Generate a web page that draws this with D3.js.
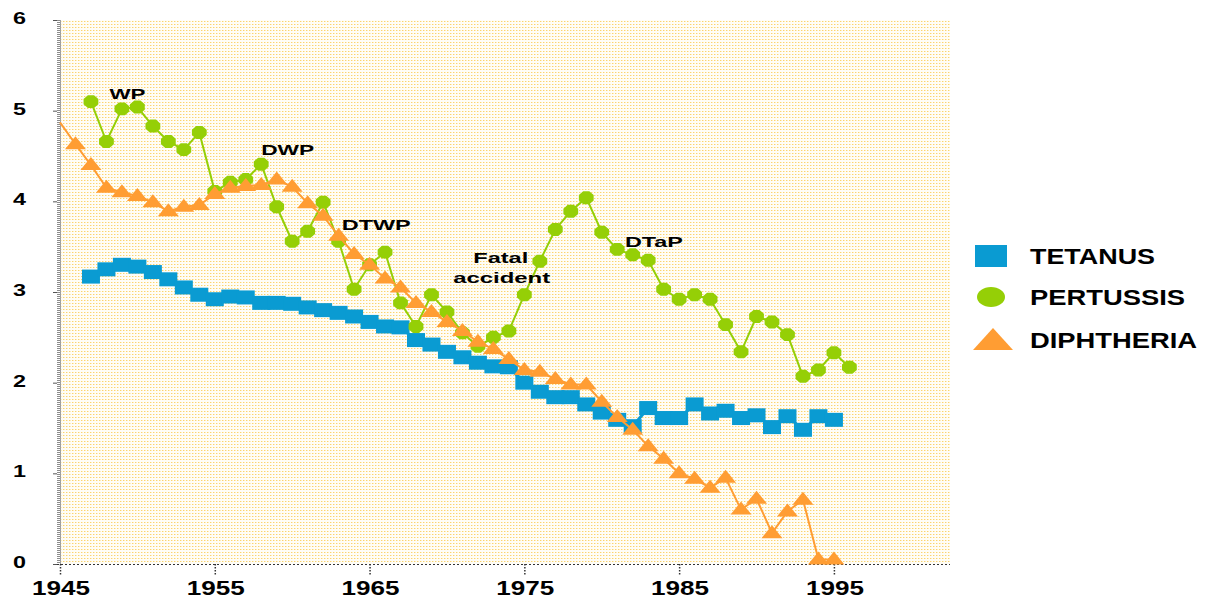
<!DOCTYPE html>
<html>
<head>
<meta charset="utf-8">
<script src="https://cdn.jsdelivr.net/npm/d3@7"></script>
<style>
  html, body { margin: 0; padding: 0; background: #ffffff; }
  svg { display: block; }
  text { font-family: "Liberation Sans", Arial, sans-serif; font-weight: bold; fill: #000; }
</style>
</head>
<body>
<svg id="chart" width="1212" height="599"></svg>
<script>
// ---------------- DATA ----------------
const years = [1945,1946,1947,1948,1949,1950,1951,1952,1953,1954,
               1955,1956,1957,1958,1959,1960,1961,1962,1963,1964,
               1965,1966,1967,1968,1969,1970,1971,1972,1973,1974,
               1975,1976,1977,1978,1979,1980,1981,1982,1983,1984,
               1985,1986,1987,1988,1989,1990,1991,1992,1993,1994,
               1995,1996];

const tetanus = [null,null,3.17,3.25,3.30,3.28,3.22,3.14,3.05,2.97,
                 2.92,2.95,2.94,2.88,2.88,2.87,2.83,2.80,2.77,2.73,
                 2.67,2.62,2.61,2.47,2.42,2.34,2.28,2.22,2.18,2.17,
                 2.00,1.90,1.84,1.84,1.76,1.67,1.59,1.52,1.72,1.61,
                 1.61,1.76,1.66,1.69,1.61,1.64,1.51,1.63,1.48,1.63,
                 1.59,null];

const pertussis = [null,null,5.10,4.66,5.02,5.04,4.83,4.66,4.57,4.76,
                   4.11,4.21,4.24,4.41,3.94,3.56,3.67,3.99,3.56,3.03,
                   3.30,3.44,2.88,2.62,2.97,2.78,2.55,2.40,2.50,2.57,
                   2.97,3.34,3.69,3.89,4.04,3.66,3.47,3.41,3.35,3.03,
                   2.92,2.97,2.92,2.64,2.34,2.73,2.67,2.53,2.07,2.14,
                   2.33,2.17];

const diphtheria = [4.87,4.63,4.40,4.15,4.10,4.06,3.99,3.89,3.94,3.96,
                    4.08,4.15,4.17,4.18,4.24,4.16,3.98,3.84,3.62,3.42,
                    3.30,3.15,3.05,2.88,2.78,2.67,2.57,2.45,2.37,2.26,
                    2.14,2.12,2.04,1.98,1.98,1.79,1.62,1.48,1.30,1.16,
                    1.00,0.94,0.84,0.95,0.60,0.72,0.34,0.58,0.71,0.05,
                    0.05,null];

const seriesNames = ["TETANUS", "PERTUSSIS", "DIPHTHERIA"];
const xTickLabels = [1945, 1955, 1965, 1975, 1985, 1995];
const yTickLabels = [0, 1, 2, 3, 4, 5, 6];

const annotations = [
  {text: "WP", year: 1948.2, value: 5.13, w: 36},
  {text: "DWP", year: 1958.0, value: 4.51, w: 53},
  {text: "DTWP", year: 1963.2, value: 3.68, w: 69},
  {text: "Fatal", year: 1971.7, value: 3.32, w: 55},
  {text: "accident", year: 1970.4, value: 3.10, w: 97},
  {text: "DTaP", year: 1981.5, value: 3.50, w: 58}
];

// ---------------- SETUP ----------------
const svg = d3.select("#chart");
const colors = {TETANUS: "#0a9bd2", PERTUSSIS: "#95cf06", DIPHTHERIA: "#ff9d33"};

const x = d3.scaleLinear().domain([1945, 2002.5]).range([60, 950]);
const y = d3.scaleLinear().domain([0, 6]).range([564, 20]);

// dotted background pattern
const defs = svg.append("defs");
const pat = defs.append("pattern").attr("id", "dots")
  .attr("patternUnits", "userSpaceOnUse").attr("width", 3).attr("height", 3);
pat.append("rect").attr("width", 3).attr("height", 3).attr("fill", "#fffdf6");
pat.append("rect").attr("width", 1).attr("height", 1).attr("fill", "#fbd270");
pat.append("rect").attr("x", 1).attr("width", 1).attr("height", 1).attr("fill", "#feeebb");

svg.append("rect")
  .attr("x", x(1945)).attr("y", y(6))
  .attr("width", x(2002.5) - x(1945)).attr("height", y(0) - y(6))
  .attr("fill", "url(#dots)");

// ---------------- AXES ----------------
// y axis: gray band + small ticks
svg.append("line")
  .attr("x1", x(1945) - 1).attr("x2", x(1945) - 1)
  .attr("y1", y(6)).attr("y2", y(0))
  .attr("stroke", "#8c8c8c").attr("stroke-width", 4)
  .attr("stroke-dasharray", "1,1");
svg.append("line")
  .attr("x1", x(1945) + 0.5).attr("x2", x(1945) + 0.5)
  .attr("y1", y(6)).attr("y2", y(0))
  .attr("stroke", "#a0a0a0").attr("stroke-width", 1);

const yAxis = d3.axisLeft(y).tickValues(yTickLabels).tickSize(4).tickFormat(d3.format("d"));
const gy = svg.append("g").attr("transform", `translate(${x(1945) - 3},0)`).call(yAxis);
gy.select(".domain").remove();
gy.selectAll(".tick line").attr("stroke", "#555");
gy.selectAll(".tick text").remove();
yTickLabels.forEach(v => {
  svg.append("text")
    .attr("x", 13).attr("y", y(v) + 4)
    .attr("font-size", 17)
    .attr("textLength", 13).attr("lengthAdjust", "spacingAndGlyphs")
    .text(v);
});

// x axis: dotted line + ticks
svg.append("line")
  .attr("x1", x(1945) - 3).attr("x2", x(2002.5))
  .attr("y1", y(0) + 0.5).attr("y2", y(0) + 0.5)
  .attr("stroke", "#333").attr("stroke-width", 1.2)
  .attr("stroke-dasharray", "2,2");

const xAxis = d3.axisBottom(x).tickValues(xTickLabels).tickSize(11).tickFormat(d3.format("d"));
const gx = svg.append("g").attr("transform", `translate(0,${y(0)})`).call(xAxis);
gx.select(".domain").remove();
gx.selectAll(".tick line").attr("stroke", "#333").attr("stroke-dasharray", "1.5,1.5").attr("stroke-width", 1.5);
gx.selectAll(".tick text").remove();
xTickLabels.forEach(t => {
  svg.append("text")
    .attr("x", x(t) - 28).attr("y", 595)
    .attr("font-size", 20)
    .attr("textLength", 58).attr("lengthAdjust", "spacingAndGlyphs")
    .text(t);
});

// ---------------- SERIES ----------------
const seriesData = [
  {name: "TETANUS", values: tetanus},
  {name: "PERTUSSIS", values: pertussis},
  {name: "DIPHTHERIA", values: diphtheria}
].map(s => ({
  name: s.name,
  points: years.map((yr, i) => ({year: yr, value: s.values[i]})).filter(p => p.value !== null)
}));

const line = d3.line().x(d => x(d.year)).y(d => y(d.value));

function drawMarker(g, name, cx, cy, scale) {
  const k = scale || 1;
  if (name === "TETANUS") {
    g.append("rect")
      .attr("x", cx - 9 * k).attr("y", cy - 7 * k)
      .attr("width", 18 * k).attr("height", 14 * k)
      .attr("fill", colors[name]);
  } else if (name === "PERTUSSIS") {
    const rx = 8 * k, ry = 7 * k;
    const pts = d3.range(8).map(j => {
      const a = Math.PI / 8 + j * Math.PI / 4;
      return [cx + rx * Math.cos(a), cy + ry * Math.sin(a)];
    });
    g.append("path")
      .attr("d", "M" + pts.map(p => p.join(",")).join("L") + "Z")
      .attr("fill", colors[name]);
  } else {
    g.append("path")
      .attr("d", `M${cx},${cy - 8 * k}L${cx + 10.5 * k},${cy + 5 * k}L${cx - 10.5 * k},${cy + 5 * k}Z`)
      .attr("fill", colors[name]);
  }
}

seriesData.forEach(s => {
  const g = svg.append("g").attr("class", "series");
  g.append("path")
    .datum(s.points)
    .attr("d", line)
    .attr("fill", "none")
    .attr("stroke", colors[s.name])
    .attr("stroke-width", s.name === "TETANUS" ? 3 : 2);
  s.points.forEach(p => {
    if (p.year === 1945) return; // first point sits on the axis band
    drawMarker(g, s.name, x(p.year), y(p.value));
  });
});

// ---------------- ANNOTATIONS ----------------
annotations.forEach(a => {
  svg.append("text")
    .attr("x", x(a.year)).attr("y", y(a.value))
    .attr("font-size", 14)
    .attr("textLength", a.w).attr("lengthAdjust", "spacingAndGlyphs")
    .text(a.text);
});

// ---------------- LEGEND ----------------
const legendRows = [
  {name: "TETANUS", cy: 256, tw: 125},
  {name: "PERTUSSIS", cy: 297, tw: 155},
  {name: "DIPHTHERIA", cy: 340, tw: 167}
];
const lg = svg.append("g").attr("class", "legend");
legendRows.forEach(r => {
  if (r.name === "TETANUS") {
    lg.append("rect").attr("x", 975).attr("y", r.cy - 11).attr("width", 32).attr("height", 22).attr("fill", colors[r.name]);
  } else if (r.name === "PERTUSSIS") {
    lg.append("ellipse").attr("cx", 991).attr("cy", r.cy).attr("rx", 14).attr("ry", 10).attr("fill", colors[r.name]);
  } else {
    lg.append("path").attr("d", `M993,${r.cy - 12}L1013,${r.cy + 10}L973,${r.cy + 10}Z`).attr("fill", colors[r.name]);
  }
  lg.append("text")
    .attr("x", 1030).attr("y", r.cy + 8)
    .attr("font-size", 22)
    .attr("textLength", r.tw).attr("lengthAdjust", "spacingAndGlyphs")
    .text(r.name);
});
</script>
</body>
</html>
